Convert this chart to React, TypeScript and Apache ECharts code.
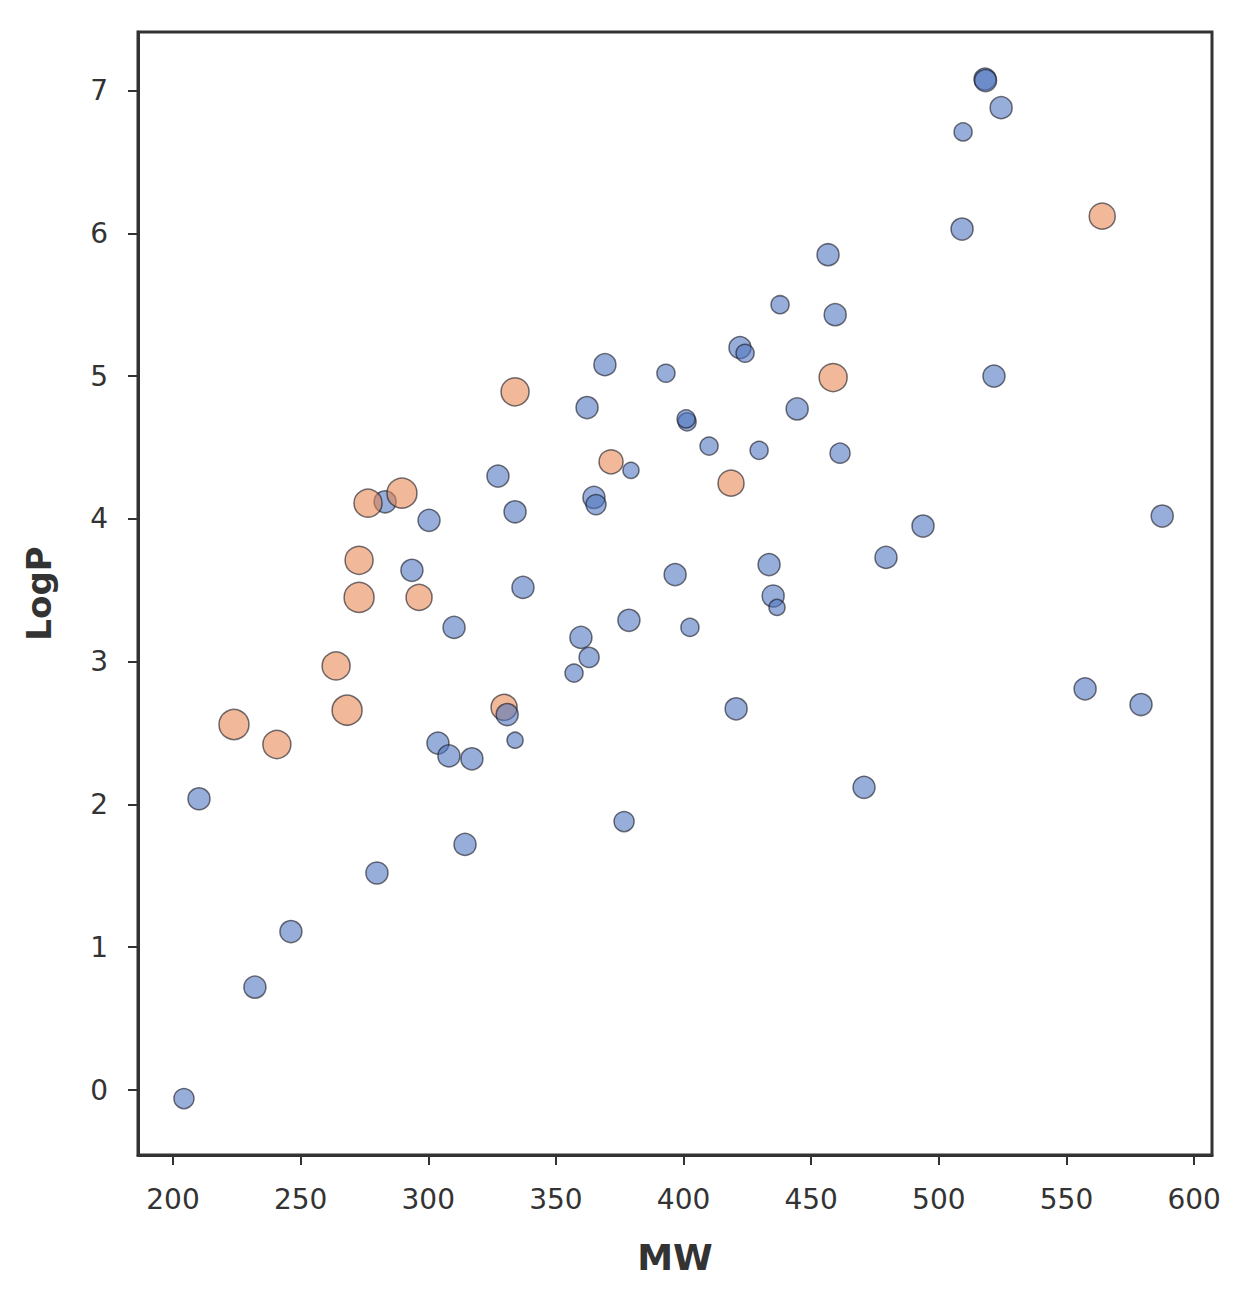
import React, { useEffect, useRef } from "react";
import * as echarts from "echarts";

// group: 0 = blue, 1 = orange ; size = marker diameter in px
const mw = [
  204.3, 210.2, 223.9, 232.1, 240.7, 246.2, 263.9, 268.2, 272.9, 272.9,
  283.1, 276.4, 289.7, 279.9, 300.3, 293.6, 296.4, 310.1, 303.8, 308.1,
  317.1, 314.4, 327.3, 334.0, 334.0, 337.1, 329.7, 330.9, 334.0, 362.2,
  369.2, 364.9, 365.7, 371.6, 379.4, 359.8, 363.0, 357.1, 378.6, 376.7,
  393.1, 401.4, 401.0, 410.0, 396.7, 402.5, 429.6, 418.6, 422.1, 424.1,
  420.6, 437.8, 444.5, 433.5, 435.1, 436.6, 456.6, 459.4, 458.6, 461.3,
  470.7, 479.3, 493.8, 509.1, 509.5, 518.1, 518.3, 524.4, 521.6, 564.0,
  557.3, 579.2, 587.5,
];
const logP = [
  -0.06, 2.04, 2.56, 0.72, 2.42, 1.11, 2.97, 2.66, 3.71, 3.45,
  4.12, 4.11, 4.18, 1.52, 3.99, 3.64, 3.45, 3.24, 2.43, 2.34,
  2.32, 1.72, 4.30, 4.89, 4.05, 3.52, 2.68, 2.63, 2.45, 4.78,
  5.08, 4.15, 4.10, 4.40, 4.34, 3.17, 3.03, 2.92, 3.29, 1.88,
  5.02, 4.68, 4.70, 4.51, 3.61, 3.24, 4.48, 4.25, 5.20, 5.16,
  2.67, 5.50, 4.77, 3.68, 3.46, 3.38, 5.85, 5.43, 4.99, 4.46,
  2.12, 3.73, 3.95, 6.03, 6.71, 7.08, 7.07, 6.88, 5.00, 6.12,
  2.81, 2.70, 4.02,
];
const group = [
  0, 0, 1, 0, 1, 0, 1, 1, 1, 1,
  0, 1, 1, 0, 0, 0, 1, 0, 0, 0,
  0, 0, 0, 1, 0, 0, 1, 0, 0, 0,
  0, 0, 0, 1, 0, 0, 0, 0, 0, 0,
  0, 0, 0, 0, 0, 0, 0, 1, 0, 0,
  0, 0, 0, 0, 0, 0, 0, 0, 1, 0,
  0, 0, 0, 0, 0, 0, 0, 0, 0, 1,
  0, 0, 0,
];
const size = [
  20, 22, 30, 22, 28, 22, 28, 30, 28, 30,
  22, 28, 30, 22, 22, 22, 26, 22, 22, 22,
  22, 22, 22, 28, 22, 22, 26, 22, 16, 22,
  22, 22, 20, 24, 16, 22, 20, 18, 22, 20,
  18, 18, 18, 18, 22, 18, 18, 26, 22, 18,
  22, 18, 22, 22, 22, 16, 22, 22, 28, 20,
  22, 22, 22, 22, 18, 22, 22, 22, 22, 26,
  22, 22, 22,
];
const xTicks = [200, 250, 300, 350, 400, 450, 500, 550, 600];
const yTicks = [0, 1, 2, 3, 4, 5, 6, 7];
const groupColors = ["rgba(76,114,190,0.72)", "rgba(230,132,78,0.72)"];

export default function App() {
  const ref = useRef<HTMLDivElement>(null);
  useEffect(() => {
    document.body.style.margin = "0";
    const chart = echarts.init(ref.current!, null, { renderer: "svg" });
    const data = mw.map((x, i) => ({
      value: [x, logP[i]],
      symbolSize: size[i],
      itemStyle: { color: groupColors[group[i]] },
    }));
    const labelStyle = {
      color: "#333",
      fontFamily: "DejaVu Sans",
      fontSize: 28,
    };
    chart.setOption({
      animation: false,
      backgroundColor: "#fff",
      grid: {
        left: 138,
        top: 32,
        width: 1074,
        height: 1123,
        show: true,
        borderColor: "#333",
        borderWidth: 3,
        backgroundColor: "transparent",
      },
      xAxis: {
        type: "value",
        min: 186.3,
        max: 607,
        name: "MW",
        nameLocation: "middle",
        nameGap: 84,
        nameTextStyle: {
          color: "#333",
          fontFamily: "DejaVu Sans",
          fontWeight: "bold",
          fontSize: 36,
        },
        axisLine: { show: true, onZero: false, lineStyle: { color: "#333", width: 3 } },
        axisTick: {
          show: true,
          length: 10,
          lineStyle: { color: "#333", width: 2 },
          customValues: xTicks,
        },
        axisLabel: { ...labelStyle, margin: 30, customValues: xTicks },
        splitLine: { show: false },
      },
      yAxis: {
        type: "value",
        min: -0.455,
        max: 7.41,
        name: "LogP",
        nameLocation: "middle",
        nameGap: 82,
        nameTextStyle: {
          color: "#333",
          fontFamily: "DejaVu Sans",
          fontWeight: "bold",
          fontSize: 34,
        },
        axisLine: { show: true, onZero: false, lineStyle: { color: "#333", width: 3 } },
        axisTick: {
          show: true,
          length: 10,
          lineStyle: { color: "#333", width: 2 },
          customValues: yTicks,
        },
        axisLabel: { ...labelStyle, margin: 30, customValues: yTicks },
        splitLine: { show: false },
      },
      series: [
        {
          type: "scatter",
          data,
          itemStyle: { borderColor: "rgba(20,20,30,0.75)", borderWidth: 1.5 },
        },
      ],
    });
    return () => chart.dispose();
  }, []);
  return <div ref={ref} style={{ width: 1243, height: 1301 }} />;
}
